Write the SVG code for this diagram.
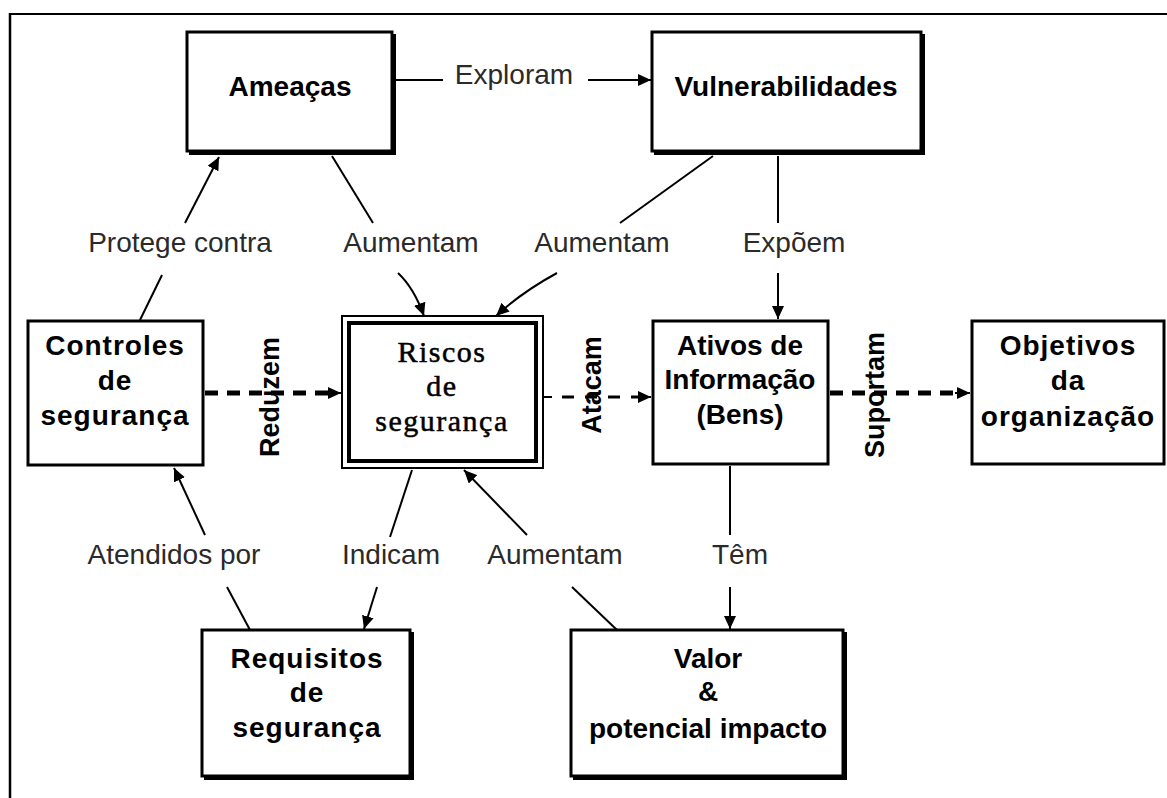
<svg xmlns="http://www.w3.org/2000/svg" width="1167" height="798" viewBox="0 0 1167 798">
<style>
.box{fill:#fff;stroke:#000;stroke-width:3}
.shadow{fill:#000}
.nt{font-family:"Liberation Sans",Arial,sans-serif;font-weight:bold;font-size:28px;fill:#000;text-anchor:middle}
.st{font-family:"Liberation Serif","Times New Roman",serif;font-size:30px;fill:#000;stroke:#000;stroke-width:0.5;text-anchor:middle;letter-spacing:1.5px}
.lb{font-family:"Liberation Sans",Arial,sans-serif;font-size:28px;fill:#2a2a2a;text-anchor:middle}
.rl{font-family:"Liberation Sans",Arial,sans-serif;font-weight:bold;font-size:27px;fill:#000;text-anchor:middle}
.ln{fill:none;stroke:#000;stroke-width:2}
.dt{fill:none;stroke:#000;stroke-width:5;stroke-dasharray:13 9}
.dn{fill:none;stroke:#000;stroke-width:3;stroke-dasharray:12 11}
</style>
<defs>
<marker id="ah" markerUnits="userSpaceOnUse" markerWidth="14" markerHeight="12" refX="13" refY="6" orient="auto">
<path d="M0,0 L13,6 L0,12 z" fill="#000"/>
</marker>
</defs>
<rect width="1167" height="798" fill="#fff"/>
<g id="frame">
<line x1="10" y1="14" x2="1167" y2="14" stroke="#000" stroke-width="2"/>
<line x1="10" y1="13" x2="10" y2="798" stroke="#000" stroke-width="2.5"/>
</g>
<g id="connectors">
<line class="ln" x1="396" y1="80" x2="443" y2="80"/>
<line class="ln" x1="588" y1="80" x2="651" y2="80" marker-end="url(#ah)"/>
<line class="ln" x1="185" y1="223" x2="219" y2="157" marker-end="url(#ah)"/>
<line class="ln" x1="140" y1="320" x2="162" y2="275"/>
<line class="ln" x1="332" y1="156" x2="373" y2="223"/>
<path class="ln" d="M398,273 Q414,288 424,316" marker-end="url(#ah)"/>
<line class="ln" x1="713" y1="156" x2="620" y2="223"/>
<path class="ln" d="M557,273 Q522,292 496,316" marker-end="url(#ah)"/>
<line class="ln" x1="778" y1="156" x2="778" y2="223"/>
<line class="ln" x1="778" y1="273" x2="778" y2="319" marker-end="url(#ah)"/>
<line class="dt" x1="205" y1="393" x2="330" y2="393"/>
<line class="ln" x1="326" y1="393" x2="341" y2="393" marker-end="url(#ah)"/>
<line class="ln" x1="543" y1="397" x2="552" y2="397"/>
<line class="dn" x1="562" y1="397" x2="640" y2="397"/>
<line class="ln" x1="636" y1="397" x2="651" y2="397" marker-end="url(#ah)"/>
<line class="dt" x1="830" y1="393" x2="958" y2="393"/>
<line class="ln" x1="955" y1="393" x2="970" y2="393" marker-end="url(#ah)"/>
<line class="ln" x1="205" y1="535" x2="174" y2="468" marker-end="url(#ah)"/>
<line class="ln" x1="227" y1="587" x2="250" y2="630"/>
<line class="ln" x1="412" y1="470" x2="390" y2="537"/>
<line class="ln" x1="377" y1="587" x2="364" y2="629" marker-end="url(#ah)"/>
<line class="ln" x1="527" y1="535" x2="464" y2="470" marker-end="url(#ah)"/>
<line class="ln" x1="572" y1="587" x2="617" y2="630"/>
<line class="ln" x1="730" y1="466" x2="730" y2="535"/>
<line class="ln" x1="730" y1="587" x2="730" y2="629" marker-end="url(#ah)"/>
<text class="lb" x="514" y="84">Exploram</text>
<text class="lb" x="180" y="252">Protege contra</text>
<text class="lb" x="411" y="252">Aumentam</text>
<text class="lb" x="602" y="252">Aumentam</text>
<text class="lb" x="794" y="252">Expõem</text>
<text class="lb" x="174" y="564">Atendidos por</text>
<text class="lb" x="391" y="564">Indicam</text>
<text class="lb" x="555" y="564">Aumentam</text>
<text class="lb" x="740" y="564">Têm</text>
<text class="rl" transform="translate(279,397) rotate(-90)">Reduzem</text>
<text class="rl" transform="translate(601,385) rotate(-90)">Atacam</text>
<text class="rl" transform="translate(884,395) rotate(-90)">Suportam</text>
</g>
<g id="ameacas">
<rect class="shadow" x="189" y="34" width="207" height="121"/>
<rect class="box" x="187" y="32" width="205" height="119"/>
<text class="nt" x="290" y="96">Ameaças</text>
</g>
<g id="vulnerabilidades">
<rect class="shadow" x="654" y="34" width="271" height="121"/>
<rect class="box" x="652" y="32" width="269" height="119"/>
<text class="nt" x="786" y="96">Vulnerabilidades</text>
</g>
<g id="controles">
<rect class="box" x="28" y="321" width="175" height="144"/>
<text class="nt" x="115" y="355" letter-spacing="1">Controles</text>
<text class="nt" x="115" y="390" letter-spacing="1">de</text>
<text class="nt" x="115" y="425" letter-spacing="1">segurança</text>
</g>
<g id="riscos">
<rect x="342" y="316" width="201" height="152" fill="#fff" stroke="#000" stroke-width="2"/>
<rect x="349" y="323" width="187" height="138" fill="#fff" stroke="#000" stroke-width="4"/>
<text class="st" x="442" y="362">Riscos</text>
<text class="st" x="442" y="396">de</text>
<text class="st" x="442" y="431">segurança</text>
</g>
<g id="ativos">
<rect class="box" x="653" y="321" width="175" height="143"/>
<text class="nt" x="740" y="355">Ativos de</text>
<text class="nt" x="740" y="389">Informação</text>
<text class="nt" x="740" y="424">(Bens)</text>
</g>
<g id="objetivos">
<rect class="box" x="972" y="321" width="192" height="143"/>
<text class="nt" x="1068" y="355" letter-spacing="1">Objetivos</text>
<text class="nt" x="1068" y="390" letter-spacing="1">da</text>
<text class="nt" x="1068" y="426" letter-spacing="1">organização</text>
</g>
<g id="requisitos">
<rect class="shadow" x="204" y="632" width="210" height="148"/>
<rect class="box" x="202" y="630" width="208" height="146"/>
<text class="nt" x="307" y="668" letter-spacing="1">Requisitos</text>
<text class="nt" x="307" y="702" letter-spacing="1">de</text>
<text class="nt" x="307" y="737" letter-spacing="1">segurança</text>
</g>
<g id="valor">
<rect class="shadow" x="573" y="632" width="274" height="148"/>
<rect class="box" x="571" y="630" width="272" height="146"/>
<text class="nt" x="708" y="668">Valor</text>
<text class="nt" x="708" y="701">&amp;</text>
<text class="nt" x="708" y="738">potencial impacto</text>
</g>
</svg>
